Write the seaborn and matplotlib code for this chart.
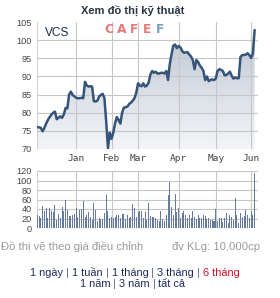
import numpy as np
import pandas as pd
import matplotlib
matplotlib.use("Agg")
import matplotlib.pyplot as plt
from matplotlib.colors import LinearSegmentedColormap
import seaborn as sns

# ---------------- data ----------------
price = [76.0, 76.0, 75.8, 74.9, 75.8, 77.0, 78.0, 78.8, 79.5, 80.0,
         80.3, 78.2, 78.6, 79.0, 78.6, 79.5, 81.3, 81.2, 85.0, 85.8,
         84.9, 84.5, 84.1, 84.0, 84.0, 84.1, 84.0, 88.5, 87.5, 87.2,
         87.3, 87.2, 83.2, 83.1, 83.3, 84.5, 84.9, 85.2, 84.0, 77.5,
         70.2, 74.5, 72.8, 74.5, 77.0, 78.8, 78.0, 77.0, 80.0, 81.4,
         81.5, 81.7, 82.4, 82.8, 83.3, 84.0, 85.5, 88.1, 87.5, 87.3,
         88.1, 87.2, 87.5, 88.3, 90.5, 91.5, 91.0, 91.3, 90.8, 90.8,
         91.0, 91.0, 90.8, 91.5, 89.0, 93.5, 96.2, 98.5, 98.8, 97.8,
         98.4, 98.0, 97.0, 96.5, 96.6, 96.7, 96.0, 95.5, 94.5, 92.0,
         94.5, 94.0, 93.0, 92.4, 91.5, 89.0, 90.0, 88.7, 89.0, 89.2,
         89.0, 89.4, 91.5, 92.0, 91.8, 91.5, 90.3, 90.4, 90.8, 91.3,
         90.2, 89.4, 89.7, 89.5, 89.5, 95.4, 95.9, 95.9, 96.0, 96.4,
         95.9, 95.1, 96.3, 102.8]
volume = [28, 25, 21, 46, 36, 42, 21, 42, 36, 34,
          48, 17, 30, 21, 44, 36, 60, 38, 26, 26,
          28, 30, 42, 24, 38, 40, 56, 24, 27, 34,
          24, 16, 52, 38, 14, 21, 19, 19, 31, 69,
          36, 21, 24, 21, 23, 28, 28, 22, 29, 29,
          19, 28, 21, 24, 50, 42, 24, 33, 36, 35,
          21, 33, 17, 52, 26, 24, 24, 21, 16, 15,
          35, 19, 14, 28, 69, 96, 45, 28, 72, 33,
          43, 21, 31, 35, 28, 21, 28, 21, 36, 24,
          19, 28, 21, 21, 28, 26, 19, 22, 16, 17,
          15, 40, 14, 22, 22, 13, 22, 31, 10, 28,
          24, 17, 64, 27, 10, 31, 24, 26, 38, 28,
          21, 36, 28, 115]
month_labels = ["Jan", "Feb", "Mar", "Apr", "May", "Jun"]
month_pos = [22, 42, 57, 80, 101, 121]
price_ticks = [70, 75, 80, 85, 90, 95, 100, 105]
vol_ticks = [0, 20, 40, 60, 80, 100, 120]
symbol = "VCS"

df = pd.DataFrame({"i": np.arange(len(price)), "price": price, "volume": volume})

# ---------------- figure ----------------
W, H = 280, 298
sns.set_style("white")
fig = plt.figure(figsize=(W / 100, H / 100), dpi=100)
fig.patch.set_facecolor("white")

def fx(px):
    return px / W

def fy(py):
    return 1 - py / H

L, R = 37, 258
ax = fig.add_axes([fx(L), fy(149), fx(R - L), (149 - 22) / H])
ax2 = fig.add_axes([fx(L), fy(228), fx(R - L), (228 - 171) / H])

x0 = -0.17
x1 = x0 + (R - L) / 1.767
grid_c = "#c6c6c6"
tick_c = "#444444"
line_c = "#35547a"

def style_axis(a, yt, hgrid):
    a.set_xlim(x0, x1)
    a.set_yticks(yt)
    a.set_xticks(month_pos)
    a.tick_params(axis="y", length=3, width=0.8, color=tick_c, pad=1, labelsize=6.6,
                  labelcolor=tick_c)
    for t in a.get_yticklabels():
        t.set_family("Liberation Sans")
    a.grid(False)
    for v in hgrid:
        a.axhline(v, color=grid_c, linewidth=0.8, zorder=2.5)
    for m in month_pos:
        a.axvline(m, color=grid_c, linewidth=0.8, zorder=2.5)
    a.axvline(x0, color=grid_c, linewidth=1.2, zorder=2.5)
    for s in ["top", "right", "bottom", "left"]:
        a.spines[s].set_visible(False)
    a.set_xlabel("")
    a.set_ylabel("")
    a.set_facecolor("white")

# ----- price -----
sns.lineplot(data=df, x="i", y="price", color=line_c, linewidth=1.8, ax=ax, zorder=4)
poly = ax.fill_between(df["i"], df["price"], 70, color="none", linewidth=0)
cmap = LinearSegmentedColormap.from_list("g", ["#f3f5f8", "#bcc4d2"])
grad = np.linspace(0, 1, 256).reshape(-1, 1)
im = ax.imshow(grad, extent=[x0, x1, 70, 105], origin="lower", aspect="auto",
               cmap=cmap, zorder=2)
im.set_clip_path(poly.get_paths()[0], transform=ax.transData)
ax.set_ylim(70, 105)
style_axis(ax, price_ticks, price_ticks[:-1])
ax.set_xticklabels(month_labels, family="DejaVu Sans Mono", fontsize=6.8, color=tick_c)
ax.tick_params(axis="x", length=0, pad=3.5)

ax.text(8 / (R - L), 1 - (33 - 22) / 127, symbol, transform=ax.transAxes,
        ha="left", va="center", fontsize=8.6, family="Liberation Sans", color="#1c2c4c",
        zorder=5)

# logo
logo_letters = ["C", "A", "F", "E", "F"]
logo_cols = ["#e6777a", "#e6777a", "#e6777a", "#e6777a", "#7d9cc0"]
for k, (ch, c) in enumerate(zip(logo_letters, logo_cols)):
    cx = 108.5 + k * 13
    fig.text(fx(cx), fy(29.5), ch, ha="center", va="center",
             fontsize=8.8, fontweight="bold", family="DejaVu Sans", color=c, zorder=6)

# ----- volume -----
sns.barplot(data=df, x="i", y="volume", color="#667b9b", saturation=1, width=0.57,
            native_scale=True, ax=ax2, zorder=3, linewidth=0)
for p in ax2.patches:
    p.set_antialiased(False)
ax2.set_ylim(0, 120)
style_axis(ax2, vol_ticks, vol_ticks)
for ln in ax2.get_lines():
    ln.set_zorder(1.5)
ax2.set_xticklabels([])
ax2.tick_params(axis="x", length=0)

# ----- texts -----
fig.text(fx(132.5), fy(10.5), "Xem đồ thị kỹ thuật", ha="center", va="center",
         fontsize=8, fontweight="bold", family="Liberation Sans", color="#263445")
fig.text(fx(1), fy(246.5), "Đồ thị vẽ theo giá điều chỉnh", ha="left", va="center",
         fontsize=8.1, family="Liberation Sans", color="#9a9a9a")
fig.text(fx(260), fy(246.5), "đv KLg: 10,000cp", ha="right", va="center",
         fontsize=8.1, family="Liberation Sans", color="#9a9a9a")

navy = "#1e2b5e"
sep = "#5a6a8a"
red = "#d0102a"
line1 = [("1 ngày", navy), (" | ", sep), ("1 tuần", navy), (" | ", sep),
         ("1 tháng", navy), (" | ", sep), ("3 tháng", navy), (" | ", sep),
         ("6 tháng", red)]
line2 = [("1 năm", navy), (" | ", sep), ("3 năm", navy), (" | ", sep), ("tất cả", navy)]

fig.canvas.draw()
renderer = fig.canvas.get_renderer()

def colored_line(pieces, cx, cy, size=7.9):
    texts = []
    for s, c in pieces:
        t = fig.text(0, fy(cy), s, ha="left", va="center", fontsize=size,
                     family="Liberation Sans", color=c)
        texts.append(t)
    widths = [t.get_window_extent(renderer).width for t in texts]
    total = sum(widths)
    xpix = cx - total / 2
    for t, w in zip(texts, widths):
        t.set_x(xpix / W)
        xpix += w

colored_line(line1, 135, 272.5)
colored_line(line2, 132.5, 284)

fig.savefig("out.png", dpi=100, facecolor="white")
